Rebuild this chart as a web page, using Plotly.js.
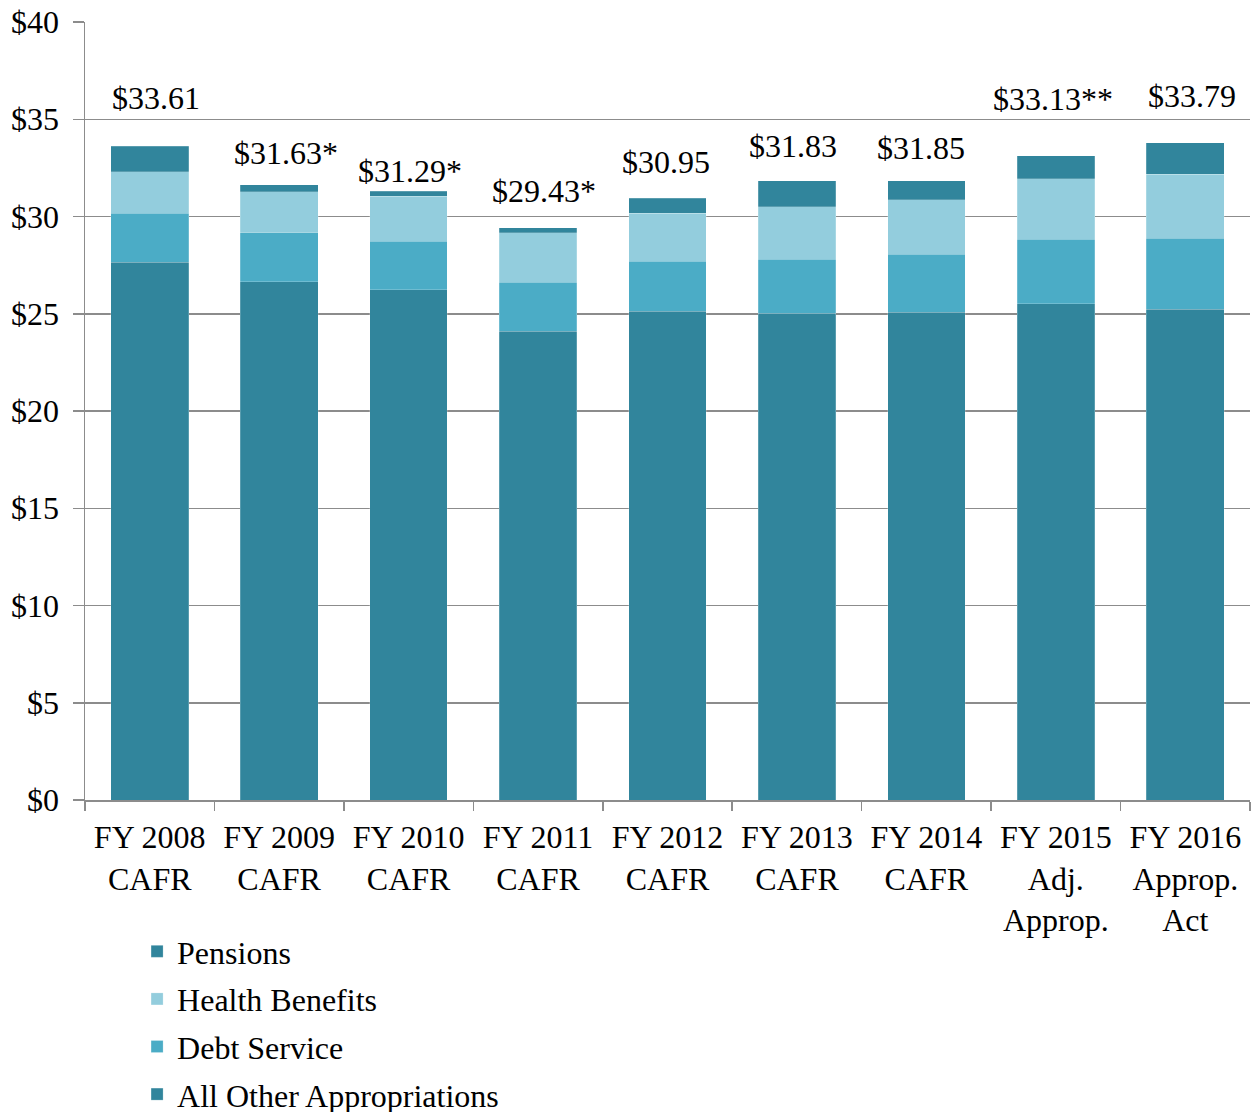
<!DOCTYPE html>
<html>
<head>
<meta charset="utf-8">
<script src="https://cdn.plot.ly/plotly-3.0.1.min.js"></script>
<style>
  html, body { margin: 0; padding: 0; background: #fff; }
  #chart { width: 1258px; height: 1112px; }
</style>
</head>
<body>
<div id="chart"></div>
<script>
// ---- Data (billions of dollars) ----
const categories = [
  "FY 2008<br>CAFR", "FY 2009<br>CAFR", "FY 2010<br>CAFR", "FY 2011<br>CAFR",
  "FY 2012<br>CAFR", "FY 2013<br>CAFR", "FY 2014<br>CAFR",
  "FY 2015<br>Adj.<br>Approp.", "FY 2016<br>Approp.<br>Act"
];
const allOther      = [27.64, 26.65, 26.24, 24.11, 25.12, 25.02, 25.09, 25.52, 25.24];
const debtService   = [2.52, 2.52, 2.48, 2.52, 2.58, 2.79, 2.98, 3.32, 3.65];
const healthBenefits= [2.13, 2.09, 2.32, 2.54, 2.48, 2.69, 2.79, 3.09, 3.28];
const pensions      = [1.32, 0.37, 0.25, 0.26, 0.77, 1.33, 0.99, 1.20, 1.62];
const totals        = [33.61, 31.63, 31.29, 29.43, 30.95, 31.83, 31.85, 33.13, 33.79];
const totalLabels   = ["$33.61", "$31.63*", "$31.29*", "$29.43*", "$30.95", "$31.83", "$31.85", "$33.13**", "$33.79"];
const yTickVals     = [0, 5, 10, 15, 20, 25, 30, 35, 40];
const yTickText     = ["$0", "$5", "$10", "$15", "$20", "$25", "$30", "$35", "$40"];

// ---- Styles ----
const FONT = "Liberation Serif, Times New Roman, serif";
const FS = 32;
const DARK = "#31859C", MID = "#4BACC6", LIGHT = "#93CDDD";
const labelYShift = [48, 32, 20, 37, 36, 35, 33, 57, 47];
const labelXShift = [6, 7, 1, 6, -2, -4, -5, -3, 7];

function barTrace(name, values, color, group, rank) {
  return {
    type: "bar", name: name, x: categories, y: values,
    legendgroup: group, legendrank: rank,
    marker: { color: color, line: { color: "rgba(255,255,255,0.25)", width: 0.8 } },
    hoverinfo: "skip"
  };
}

const traces = [
  barTrace("All Other Appropriations", allOther, DARK, "g4", 4),
  barTrace("Debt Service", debtService, MID, "g3", 3),
  barTrace("Health Benefits", healthBenefits, LIGHT, "g2", 2),
  barTrace("Pensions", pensions, DARK, "g1", 1)
];

const annotations = categories.map((c, i) => ({
  x: c, y: totals[i], xref: "x", yref: "y",
  text: totalLabels[i], showarrow: false,
  yanchor: "middle", xanchor: "center",
  yshift: labelYShift[i], xshift: labelXShift[i],
  font: { family: FONT, size: FS, color: "#000" }
}));

const layout = {
  width: 1258, height: 1112,
  margin: { l: 85, r: 8, t: 22, b: 312, autoexpand: false },
  paper_bgcolor: "#fff", plot_bgcolor: "#fff",
  barmode: "stack", bargap: 0.4,
  font: { family: FONT, size: FS, color: "#000" },
  showlegend: true,
  legend: {
    orientation: "v", traceorder: "grouped", tracegroupgap: 3,
    x: 0.0447, y: -0.1594, xanchor: "left", yanchor: "top",
    font: { family: FONT, size: FS, color: "#000" },
    bgcolor: "rgba(0,0,0,0)"
  },
  xaxis: {
    type: "category", showgrid: false,
    showline: true, linecolor: "#8c8c8c", linewidth: 1.5,
    ticks: "outside", tickson: "boundaries", ticklen: 9, tickcolor: "#8c8c8c", tickwidth: 1.5,
    tickfont: { family: FONT, size: FS, color: "#000" },
    ticklabelstandoff: 8,
    fixedrange: true
  },
  yaxis: {
    range: [0, 40], tickvals: yTickVals, ticktext: yTickText,
    showgrid: true, gridcolor: "#8c8c8c", gridwidth: 1.5,
    zeroline: false,
    showline: true, linecolor: "#8c8c8c", linewidth: 1.5,
    ticks: "outside", ticklen: 11, tickcolor: "#8c8c8c", tickwidth: 1.5,
    tickfont: { family: FONT, size: FS, color: "#000" },
    ticklabelstandoff: 7,
    fixedrange: true
  },
  annotations: annotations
};

Plotly.newPlot("chart", traces, layout, { displayModeBar: false, staticPlot: true });
</script>
</body>
</html>
